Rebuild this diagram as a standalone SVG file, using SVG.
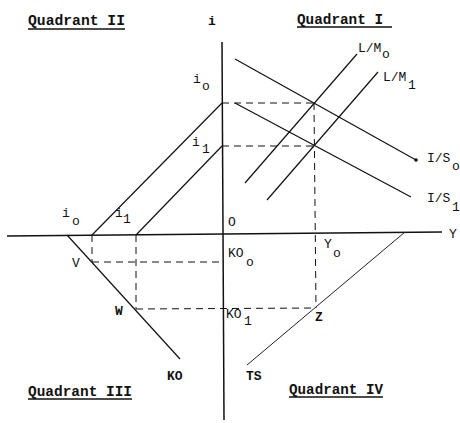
<svg xmlns="http://www.w3.org/2000/svg" width="460" height="423" viewBox="0 0 460 423">
<style>
text{font-family:"Liberation Mono","DejaVu Sans Mono",monospace;font-size:13px;fill:#111}
.q{font-size:14px;font-weight:bold}
.b{font-weight:bold}
.ax{stroke:#111;stroke-width:1.5;fill:none}
.ln{stroke:#111;stroke-width:1.2;fill:none}
.ts{stroke:#222;stroke-width:1;fill:none}
.d{stroke:#111;stroke-width:1;fill:none;stroke-dasharray:7,5}
.u{stroke:#111;stroke-width:1.6}
</style>
<rect width="460" height="423" fill="#fff"/>
<g id="axes">
<line class="ax" x1="222" y1="42" x2="224" y2="420"/>
<line class="ax" x1="7" y1="236" x2="442" y2="232"/>
<text class="b" x="208" y="25">i</text>
<text x="449" y="238">Y</text>
<text x="228" y="226">O</text>
</g>
<g id="connectors">
<line class="d" x1="222" y1="103" x2="313" y2="103"/>
<line class="d" x1="222" y1="146" x2="313" y2="146"/>
<line class="d" x1="314" y1="103" x2="316" y2="308"/>
<line class="d" x1="92" y1="235" x2="92" y2="262"/>
<line class="d" x1="136" y1="235" x2="136" y2="309"/>
<line class="d" x1="92" y1="262" x2="223" y2="262"/>
<line class="d" x1="136" y1="309" x2="316" y2="308"/>
</g>
<g id="quadrant-labels">
<text class="q" x="28" y="25" textLength="97" lengthAdjust="spacingAndGlyphs">Quadrant II</text>
<line class="u" x1="28" y1="29" x2="125" y2="29"/>
<text class="q" x="297" y="24" textLength="86" lengthAdjust="spacingAndGlyphs">Quadrant I</text>
<line class="u" x1="297" y1="27" x2="392" y2="27"/>
<text class="q" x="28" y="396" textLength="104" lengthAdjust="spacingAndGlyphs">Quadrant III</text>
<line class="u" x1="28" y1="399" x2="132" y2="399"/>
<text class="q" x="289" y="394" textLength="94" lengthAdjust="spacingAndGlyphs">Quadrant IV</text>
<line class="u" x1="289" y1="397" x2="383" y2="397"/>
</g>
<g id="i0-line">
<line class="ln" x1="92" y1="235" x2="222" y2="103"/>
<text x="193" y="83">i</text><text x="202" y="90">o</text>
<text x="62" y="217">i</text><text x="72" y="225">o</text>
</g>
<g id="i1-line">
<line class="ln" x1="136" y1="235" x2="222" y2="146"/>
<text x="192" y="146">i</text><text x="202" y="153">1</text>
<text x="115" y="217">i</text><text x="123" y="223">1</text>
</g>
<g id="IS0">
<line class="ln" x1="235" y1="59" x2="416" y2="160"/>
<circle cx="416" cy="160" r="1.8" fill="#111"/>
<text x="427" y="162">I/S</text><text x="452" y="170">o</text>
</g>
<g id="IS1">
<line class="ln" x1="235" y1="103" x2="411" y2="197"/>
<text x="427" y="202">I/S</text><text x="452" y="211">1</text>
</g>
<g id="LM0">
<line class="ln" x1="245" y1="183" x2="357" y2="54"/>
<text x="358" y="52">L/M</text><text x="382" y="58">o</text>
</g>
<g id="LM1">
<line class="ln" x1="267" y1="200" x2="378" y2="72"/>
<text x="383" y="81">L/M</text><text x="408" y="89">1</text>
</g>
<g id="KO">
<line class="ln" x1="67" y1="235" x2="180" y2="359"/>
<text class="b" x="167" y="380">KO</text>
<text x="72" y="267">V</text>
<text class="b" x="115" y="315">W</text>
<text x="228" y="257">KO</text><text x="246" y="266">o</text>
<text x="226" y="318">KO</text><text x="244" y="325">1</text>
</g>
<g id="TS">
<line class="ts" x1="247" y1="365" x2="405" y2="232"/>
<text class="b" x="246" y="380">TS</text>
<text class="b" x="315" y="321">Z</text>
<text x="324" y="248">Y</text><text x="333" y="257">o</text>
</g>
</svg>
